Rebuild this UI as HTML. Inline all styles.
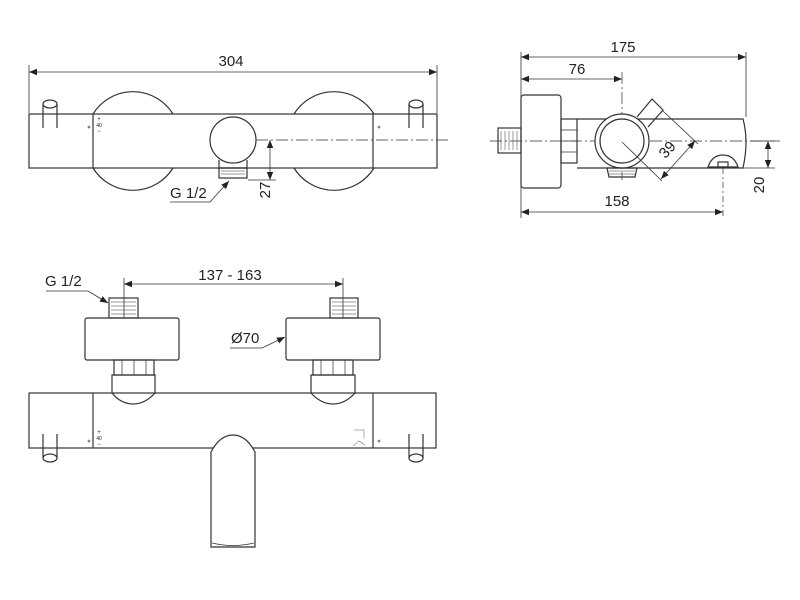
<!DOCTYPE html>
<html><head><meta charset="utf-8"><style>
html,body{margin:0;padding:0;background:#fff;}
svg{display:block;}
text{font-family:"Liberation Sans",sans-serif;font-size:15px;fill:#222;}
</style></head><body>
<svg width="800" height="600" viewBox="0 0 800 600" xmlns="http://www.w3.org/2000/svg">
<defs>
<marker id="a" viewBox="0 0 10 10" refX="10" refY="5" markerWidth="12" markerHeight="8" markerUnits="userSpaceOnUse" orient="auto-start-reverse">
<path d="M0,1 L10,5 L0,9 z" fill="#222"/></marker>
</defs>
<g fill="none" stroke="#333" stroke-width="1.2">
<line x1="29" y1="72" x2="437" y2="72" stroke-width="0.8" marker-start="url(#a)" marker-end="url(#a)"/>
<line x1="29" y1="65" x2="29" y2="113" stroke-width="0.8"/>
<line x1="437" y1="65" x2="437" y2="113" stroke-width="0.8"/>
<path d="M93,114 A47,47 0 0 1 173,114 M93,168 A47,47 0 0 0 173,168"/>
<path d="M294,114 A47,47 0 0 1 374,114 M294,168 A47,47 0 0 0 374,168"/>
<rect x="29" y="114" width="408" height="54" fill="none"/>
<line x1="93" y1="114" x2="93" y2="168"/>
<line x1="373" y1="114" x2="373" y2="168"/>
<path d="M43,104 V128 M57,104 V128" /><ellipse cx="50" cy="104" rx="7" ry="4"/>
<path d="M409,104 V128 M423,104 V128" /><ellipse cx="416" cy="104" rx="7" ry="4"/>
<circle cx="233" cy="140" r="23" fill="#fff"/>
<path d="M219,160 L219,168 L247,168 L247,160"/>
<rect x="219" y="168" width="28" height="10"/>
<path d="M221,171h24M221,174h24" stroke-width="0.6"/>
<line x1="256" y1="140" x2="450" y2="140" stroke-width="0.7" stroke-dasharray="12,3,2,3"/>
<line x1="270" y1="140" x2="270" y2="180" stroke-width="0.8" marker-start="url(#a)" marker-end="url(#a)"/>
<line x1="248" y1="180" x2="276" y2="180" stroke-width="0.8"/>
<path d="M170,202 H210 L229,181" stroke-width="0.8" marker-end="url(#a)"/>
<line x1="521" y1="57" x2="746" y2="57" stroke-width="0.8" marker-start="url(#a)" marker-end="url(#a)"/>
<line x1="521" y1="79" x2="622" y2="79" stroke-width="0.8" marker-start="url(#a)" marker-end="url(#a)"/>
<line x1="521" y1="52" x2="521" y2="218" stroke-width="0.8"/>
<line x1="746" y1="52" x2="746" y2="117" stroke-width="0.8"/>
<line x1="622" y1="72" x2="622" y2="180" stroke-width="0.7" stroke-dasharray="12,3,2,3"/>
<line x1="490" y1="141" x2="780" y2="141" stroke-width="0.7" stroke-dasharray="12,3,2,3"/>
<rect x="521" y="95" width="40" height="93" rx="3"/>
<rect x="498" y="128" width="23" height="25"/>
<path d="M501,131v19M505,131v19M509,131v19M513,131v19M517,131v19" stroke-width="0.5"/>
<rect x="561" y="119" width="16" height="44"/>
<path d="M561,130h16M561,141h16M561,152h16" stroke-width="0.7"/>
<path d="M577,119 H743 Q749,141 743,168 H577"/>
<path d="M637,117 L652,99 L663,110 L648,127"/>
<circle cx="622" cy="141" r="27" fill="#fff"/>
<circle cx="622" cy="141" r="22"/>
<path d="M607,168 h30 l-2,9 h-26 z"/>
<path d="M609,171h26M609,174h26" stroke-width="0.5"/>
<path d="M708,167 Q712,155 723,155 Q734,155 738,167 Z"/>
<rect x="718" y="162" width="10" height="5"/>
<line x1="723" y1="168" x2="723" y2="218" stroke-width="0.7" stroke-dasharray="6,3,2,3"/>
<line x1="663" y1="111" x2="698" y2="144" stroke-width="0.8"/>
<line x1="622" y1="142" x2="662" y2="181" stroke-width="0.8"/>
<line x1="695" y1="141" x2="661" y2="179" stroke-width="0.8" marker-start="url(#a)" marker-end="url(#a)"/>
<line x1="521" y1="212" x2="723" y2="212" stroke-width="0.8" marker-start="url(#a)" marker-end="url(#a)"/>
<line x1="768" y1="141" x2="768" y2="168" stroke-width="0.8" marker-start="url(#a)" marker-end="url(#a)"/>
<line x1="740" y1="168" x2="775" y2="168" stroke-width="0.8"/>
<line x1="750" y1="141" x2="775" y2="141" stroke-width="0.8"/>
<line x1="124" y1="284" x2="343" y2="284" stroke-width="0.8" marker-start="url(#a)" marker-end="url(#a)"/>
<line x1="124" y1="278" x2="124" y2="318" stroke-width="0.8"/>
<line x1="343" y1="278" x2="343" y2="318" stroke-width="0.8"/>
<rect x="109" y="298" width="29" height="20"/>
<path d="M111,302h25M111,306h25M111,310h25M111,314h25" stroke-width="0.5"/>
<rect x="330" y="298" width="28" height="20"/>
<path d="M332,302h24M332,306h24M332,310h24M332,314h24" stroke-width="0.5"/>
<rect x="85" y="318" width="94" height="42" rx="2"/>
<rect x="286" y="318" width="94" height="42" rx="2"/>
<rect x="114" y="360" width="40" height="15"/>
<path d="M122,360v15M134,360v15M146,360v15" stroke-width="0.7"/>
<rect x="313" y="360" width="40" height="15"/>
<path d="M321,360v15M333,360v15M345,360v15" stroke-width="0.7"/>
<path d="M112,375 H155 V393 Q145,404 133,404 Q121,404 112,393 Z"/>
<path d="M311,375 H355 V393 Q345,404 333,404 Q321,404 311,393 Z"/>
<rect x="29" y="393" width="407" height="55"/>
<line x1="93" y1="393" x2="93" y2="448"/>
<line x1="373" y1="393" x2="373" y2="448"/>
<path d="M211,547 V452 Q220,435 233,435 Q246,435 255,452 V547 Z" fill="#fff"/>
<path d="M212,543 Q233,548 254,543" stroke-width="0.8"/>
<path d="M43,434 V458 M57,434 V458"/><ellipse cx="50" cy="458" rx="7" ry="4"/>
<path d="M409,434 V458 M423,434 V458"/><ellipse cx="416" cy="458" rx="7" ry="4"/>
<path d="M46,291 H88 L108,303" stroke-width="0.8" marker-end="url(#a)"/>
<path d="M230,348 H262 L285,337" stroke-width="0.8" marker-end="url(#a)"/>
<path d="M354,430 h10 v8 M353,446 l6,-5 l6,4" stroke="#999" stroke-width="0.8"/>
<circle cx="89" cy="127" r="1" stroke-width="0.6"/>
<circle cx="89" cy="441" r="1" stroke-width="0.6"/>
<circle cx="379" cy="127" r="1" stroke-width="0.6"/>
<circle cx="379" cy="441" r="1" stroke-width="0.6"/>
</g>
<g>
<text x="231" y="66" text-anchor="middle">304</text>
<text x="170" y="198">G 1/2</text>
<text x="266" y="190" transform="rotate(-90 266 190)" text-anchor="middle" dominant-baseline="middle">27</text>
<text x="99" y="121" style="font-size:6px" text-anchor="middle">+</text>
<text x="99" y="127" style="font-size:5px" text-anchor="middle">40</text>
<text x="99" y="133" style="font-size:6px" text-anchor="middle">−</text>
<text x="623" y="52" text-anchor="middle">175</text>
<text x="577" y="74" text-anchor="middle">76</text>
<text x="617" y="206" text-anchor="middle">158</text>
<text x="671" y="153" text-anchor="middle" transform="rotate(-48 671 153)">39</text>
<text x="760" y="185" transform="rotate(-90 760 185)" text-anchor="middle" dominant-baseline="middle">20</text>
<text x="230" y="280" text-anchor="middle">137 - 163</text>
<text x="45" y="286">G 1/2</text>
<text x="231" y="343">Ø70</text>
<text x="99" y="434" style="font-size:6px" text-anchor="middle">+</text>
<text x="99" y="440" style="font-size:5px" text-anchor="middle">40</text>
<text x="99" y="446" style="font-size:6px" text-anchor="middle">−</text>
</g>
</svg>
</body></html>
